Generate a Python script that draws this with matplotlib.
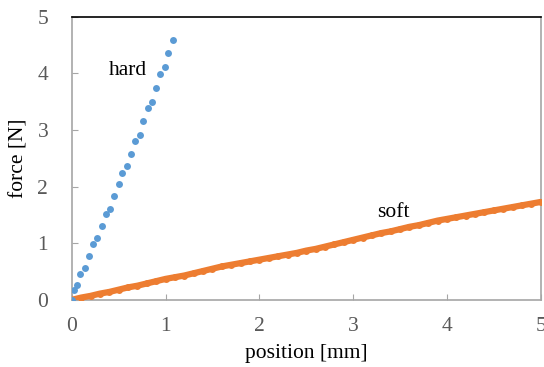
import numpy as np
import matplotlib
matplotlib.use('Agg')
import matplotlib.pyplot as plt

# hard sample: position [mm], force [N]
hard_x = [0.00, 0.025, 0.053, 0.088, 0.14, 0.18, 0.23, 0.27, 0.32, 0.36, 0.41, 0.45,
          0.50, 0.54, 0.59, 0.63, 0.67, 0.73, 0.76, 0.81, 0.85, 0.90, 0.94, 0.99,
          1.03, 1.08]
hard_y = [0.00, 0.17, 0.27, 0.46, 0.57, 0.78, 0.99, 1.09, 1.30, 1.51, 1.61, 1.83,
          2.04, 2.25, 2.36, 2.58, 2.81, 2.92, 3.16, 3.39, 3.50, 3.75, 3.99, 4.11,
          4.37, 4.60]

# soft sample
soft_x = [0.0, 0.1, 0.2, 0.3, 0.4, 0.5, 0.6, 0.7, 0.8, 0.9,
          1.0, 1.1, 1.2, 1.3, 1.4, 1.5, 1.6, 1.7, 1.8, 1.9,
          2.0, 2.1, 2.2, 2.3, 2.4, 2.5, 2.6, 2.7, 2.8, 2.9,
          3.0, 3.1, 3.2, 3.3, 3.4, 3.5, 3.6, 3.7, 3.8, 3.9,
          4.0, 4.1, 4.2, 4.3, 4.4, 4.5, 4.6, 4.7, 4.8, 4.9, 5.0]
soft_y = [0.00, 0.04, 0.07, 0.11, 0.14, 0.18, 0.22, 0.25, 0.29, 0.33,
          0.37, 0.40, 0.43, 0.47, 0.51, 0.55, 0.59, 0.62, 0.65, 0.68,
          0.71, 0.74, 0.77, 0.80, 0.83, 0.87, 0.90, 0.94, 0.98, 1.02,
          1.06, 1.10, 1.14, 1.18, 1.21, 1.25, 1.29, 1.32, 1.36, 1.40,
          1.43, 1.46, 1.49, 1.52, 1.55, 1.58, 1.61, 1.64, 1.67, 1.70, 1.73]

plt.rcParams['font.family'] = ['Liberation Serif', 'DejaVu Serif']
plt.rcParams['font.size'] = 15.5

fig = plt.figure(figsize=(5.44, 3.67), dpi=100)
ax = fig.add_axes([0.132, 0.183, 0.862, 0.771])

blue = '#5B9BD5'
orange = '#ED7D31'

ax.plot(soft_x, soft_y, color=orange, linewidth=4.5, marker='o', markersize=5,
        markeredgewidth=0, zorder=3, solid_capstyle='round')
ax.plot(hard_x, hard_y, linestyle='none', color=blue, marker='o', markersize=5,
        markeredgewidth=0, zorder=4)

ax.text(0.60, 4.06, 'hard', ha='center', va='center', fontsize=15.5)
ax.text(3.43, 1.55, 'soft', ha='center', va='center', fontsize=15.5)

ax.set_xlim(0, 5)
ax.set_ylim(0, 5)
ax.set_xticks([0, 1, 2, 3, 4, 5])
ax.set_yticks([0, 1, 2, 3, 4, 5])

gray = '#A6A6A6'
for s in ['left', 'bottom', 'right']:
    ax.spines[s].set_color(gray)
    ax.spines[s].set_linewidth(1.2)
ax.spines['top'].set_color('black')
ax.spines['top'].set_linewidth(1.2)

ax.tick_params(direction='in', length=4, color=gray, labelcolor='#595959',
               labelsize=15.5)
ax.tick_params(axis='x', pad=12)
ax.tick_params(axis='y', pad=17)

ax.set_xlabel('position [mm]', fontsize=15.5, labelpad=6)
ax.set_ylabel('force [N]', fontsize=15.5, labelpad=6)

fig.savefig('out.png', dpi=100)
